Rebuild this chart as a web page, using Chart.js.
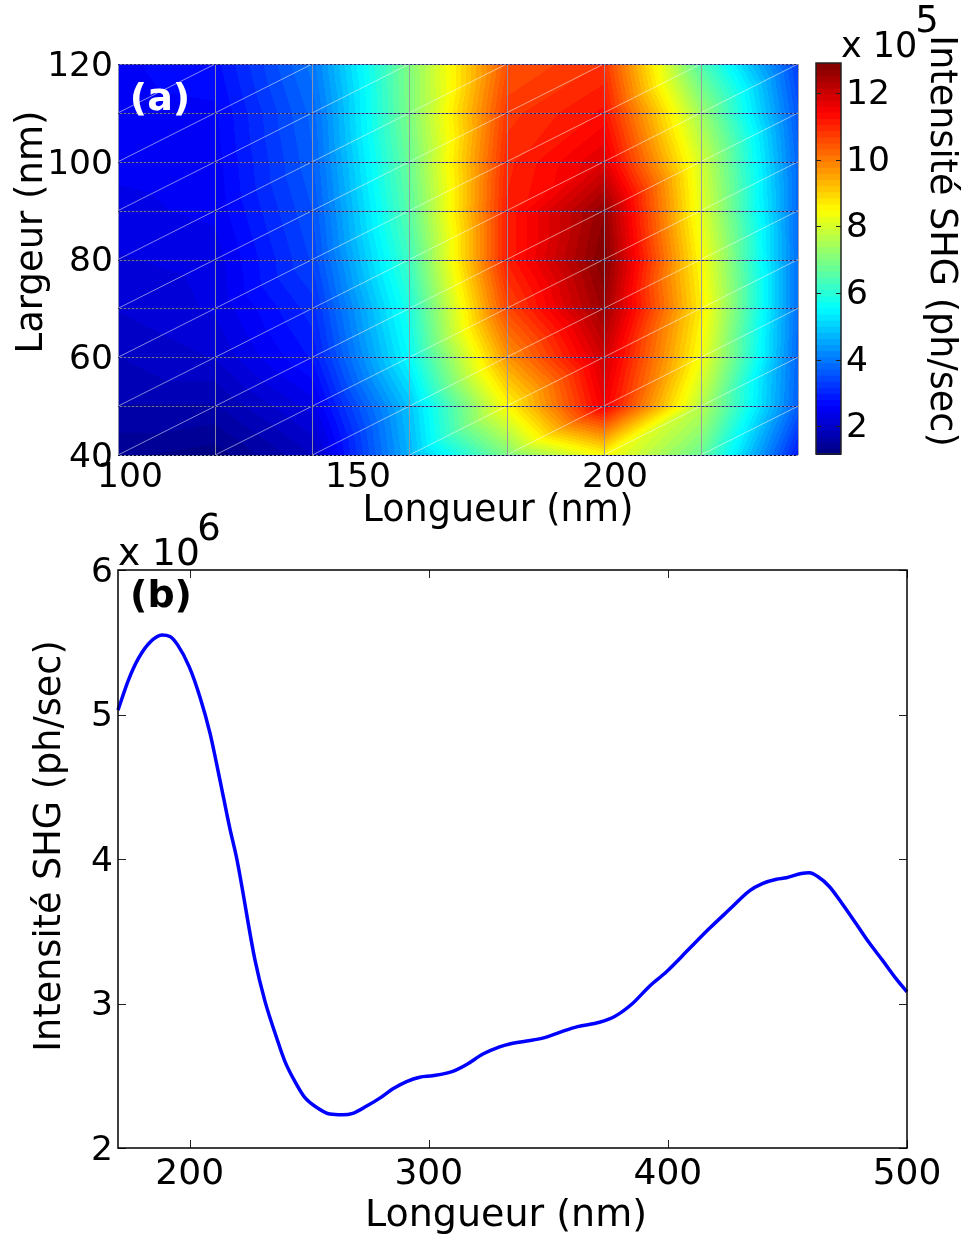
<!DOCTYPE html>
<html>
<head>
<meta charset="utf-8">
<title>Intensité SHG</title>
<script src="https://cdn.jsdelivr.net/npm/chart.js@4"></script>
<style>
    html, body { margin: 0; padding: 0; background: #ffffff; }
    #page { position: relative; width: 966px; height: 1234px; overflow: hidden; }
    canvas { position: absolute; }
</style>
</head>
<body>
<div id="page">
    <canvas id="map-chart" width="810" height="530" style="left:0;top:0"></canvas>
    <canvas id="colorbar-chart" width="166" height="530" style="left:800px;top:0"></canvas>
    <canvas id="line-chart" width="966" height="734" style="left:0;top:500px"></canvas>
</div>
<script>
// Panel (a): node values of the mesh, x 10^5 ph/sec
const mapLengths = [100, 120, 140, 160, 180, 200, 220, 240];
const mapWidths = [40, 50, 60, 70, 80, 90, 100, 110, 120];
const row40 = [1.40, 1.25, 1.90, 4.70, 7.00, 8.50, 6.80, 2.90];
const row50 = [1.70, 1.70, 2.35, 4.90, 8.50, 11.6, 7.70, 3.70];
const row60 = [1.90, 2.10, 2.85, 5.60, 9.70, 12.0, 8.40, 3.80];
const row70 = [2.10, 2.30, 3.10, 5.90, 10.6, 12.6, 8.70, 3.90];
const row80 = [2.25, 2.35, 3.40, 6.30, 11.1, 12.9, 8.50, 3.90];
const row90 = [2.40, 2.50, 3.55, 6.60, 11.1, 12.7, 8.20, 3.85];
const row100 = [2.50, 2.55, 3.70, 6.80, 11.0, 11.8, 8.00, 3.80];
const row110 = [2.55, 2.60, 3.80, 7.00, 10.8, 11.3, 7.40, 3.60];
const row120 = [2.60, 2.75, 4.00, 7.05, 10.5, 10.9, 6.50, 3.30];
const mapRows = [row40, row50, row60, row70, row80, row90, row100, row110, row120];
const mapXTicks = [100, 150, 200];
const mapYTicks = [40, 60, 80, 100, 120];

// Colour bar
const colorMin = 1.17;
const colorMax = 12.9;
const colorTicks = [2, 4, 6, 8, 10, 12];

// Panel (b): x 10^6 ph/sec
const shgLengths = [170, 174.4, 178.6, 183.4, 188.4, 191.7, 195, 199.8, 204.3, 208.5, 212.6, 216.8, 219.7, 227.3, 231.4, 236.4, 239.8, 244, 248.1, 253.2, 258.6, 264, 268.2, 274, 279.5, 285, 290.7, 296.2, 301.6, 310, 316, 322.6, 329.6, 333.8, 340.9, 347.6, 354.7, 362.2, 371.4, 377.7, 385.2, 392.3, 399.4, 409, 417.4, 425.7, 434.1, 439.5, 445.4, 449.6, 455.8, 459.2, 462.5, 467.5, 472.9, 478.8, 484.2, 489.7, 495.5, 500];
const shgValues = [5.03, 5.24, 5.39, 5.50, 5.55, 5.54, 5.48, 5.33, 5.12, 4.87, 4.55, 4.21, 4.00, 3.30, 3.02, 2.76, 2.60, 2.46, 2.35, 2.28, 2.235, 2.23, 2.24, 2.29, 2.345, 2.41, 2.46, 2.49, 2.50, 2.53, 2.58, 2.65, 2.70, 2.72, 2.74, 2.76, 2.80, 2.84, 2.87, 2.91, 3.00, 3.12, 3.22, 3.38, 3.52, 3.65, 3.78, 3.83, 3.86, 3.87, 3.90, 3.905, 3.88, 3.81, 3.69, 3.55, 3.42, 3.30, 3.17, 3.08];
const shgXTicks = [200, 300, 400, 500];
const shgYTicks = [2, 3, 4, 5, 6];

const FONT = '"DejaVu Sans", sans-serif';
const COLOR_LEVELS = 64;

Chart.defaults.font.family = FONT;
Chart.defaults.color = '#000000';
Chart.defaults.animation = false;

function jetColor(level) {
    const f = (level + 0.5) / COLOR_LEVELS;
    const ramp = (c) => Math.max(0, Math.min(1, 1.5 - Math.abs(4 * f - c)));
    return [ramp(3), ramp(2), ramp(1)].map(c => Math.round(c * 255));
}

function colorForValue(v) {
    const level = Math.floor((v - colorMin) / (colorMax - colorMin) * COLOR_LEVELS);
    return jetColor(Math.max(0, Math.min(COLOR_LEVELS - 1, level)));
}

function cellIndex(list, value) {
    let i = 0;
    while (i < list.length - 2 && value > list[i + 1]) i++;
    return i;
}

// Linear inside the two triangles of each mesh cell, split bottom-left to top-right
function meshValue(x, y) {
    const i = cellIndex(mapLengths, x);
    const j = cellIndex(mapWidths, y);
    const u = (x - mapLengths[i]) / (mapLengths[i + 1] - mapLengths[i]);
    const w = (y - mapWidths[j]) / (mapWidths[j + 1] - mapWidths[j]);
    const a = mapRows[j][i];
    const b = mapRows[j][i + 1];
    const c = mapRows[j + 1][i];
    const d = mapRows[j + 1][i + 1];
    if (w <= u) return a + u * (b - a) + w * (d - b);
    return a + u * (d - c) + w * (c - a);
}

const meshPlugin = {
    id: 'mesh',
    beforeDatasetsDraw(chart) {
        const { ctx, chartArea: area, scales } = chart;
        const left = Math.round(area.left);
        const top = Math.round(area.top);
        const w = Math.round(area.right) - left;
        const h = Math.round(area.bottom) - top;
        const image = ctx.createImageData(w, h);
        for (let py = 0; py < h; py++) {
            const y = scales.y.getValueForPixel(top + py + 0.5);
            for (let px = 0; px < w; px++) {
                const x = scales.x.getValueForPixel(left + px + 0.5);
                const rgb = colorForValue(meshValue(x, y));
                const k = (py * w + px) * 4;
                image.data[k] = rgb[0];
                image.data[k + 1] = rgb[1];
                image.data[k + 2] = rgb[2];
                image.data[k + 3] = 255;
            }
        }
        ctx.putImageData(image, left, top);

        ctx.save();
        // Diagonals
        ctx.lineWidth = 0.8;
        ctx.strokeStyle = 'rgba(255,255,255,0.65)';
        ctx.beginPath();
        for (let i = 0; i < mapLengths.length - 1; i++) {
            for (let j = 0; j < mapWidths.length - 1; j++) {
                ctx.moveTo(scales.x.getPixelForValue(mapLengths[i]), scales.y.getPixelForValue(mapWidths[j]));
                ctx.lineTo(scales.x.getPixelForValue(mapLengths[i + 1]), scales.y.getPixelForValue(mapWidths[j + 1]));
            }
        }
        ctx.stroke();
        ctx.lineWidth = 1;
        // Vertical mesh lines
        ctx.strokeStyle = 'rgba(150,150,165,0.9)';
        ctx.beginPath();
        mapLengths.forEach(v => {
            const x = Math.round(scales.x.getPixelForValue(v)) + 0.5;
            ctx.moveTo(x, area.top);
            ctx.lineTo(x, area.bottom);
        });
        ctx.stroke();
        // Horizontal mesh lines, grey with a dark broken line over them
        mapWidths.forEach(v => {
            const y = Math.round(scales.y.getPixelForValue(v)) + 0.5;
            ctx.setLineDash([]);
            ctx.strokeStyle = 'rgba(130,130,160,0.9)';
            ctx.beginPath();
            ctx.moveTo(area.left, y);
            ctx.lineTo(area.right, y);
            ctx.stroke();
            ctx.setLineDash([2, 2]);
            ctx.strokeStyle = v === 40 ? 'rgba(0,0,60,0.95)' : 'rgba(20,20,120,0.85)';
            ctx.beginPath();
            ctx.moveTo(area.left, y);
            ctx.lineTo(area.right, y);
            ctx.stroke();
        });
        ctx.restore();
    }
};

const colorbarPlugin = {
    id: 'colorbar',
    beforeDatasetsDraw(chart) {
        const { ctx, chartArea: area, scales } = chart;
        const span = colorMax - colorMin;
        ctx.save();
        for (let level = 0; level < COLOR_LEVELS; level++) {
            const y0 = scales.y.getPixelForValue(colorMin + span * level / COLOR_LEVELS);
            const y1 = scales.y.getPixelForValue(colorMin + span * (level + 1) / COLOR_LEVELS);
            const rgb = jetColor(level);
            ctx.fillStyle = `rgb(${rgb[0]},${rgb[1]},${rgb[2]})`;
            ctx.fillRect(area.left, y1, area.right - area.left, y0 - y1 + 1);
        }
        ctx.strokeStyle = '#222222';
        ctx.lineWidth = 1;
        ctx.beginPath();
        colorTicks.forEach(v => {
            const y = Math.round(scales.y.getPixelForValue(v)) + 0.5;
            ctx.moveTo(area.left, y);
            ctx.lineTo(area.left + 5, y);
            ctx.moveTo(area.right, y);
            ctx.lineTo(area.right - 5, y);
        });
        ctx.stroke();
        ctx.lineWidth = 1.5;
        ctx.strokeRect(area.left, area.top, area.right - area.left, area.bottom - area.top);
        ctx.restore();
    }
};

// Box and inward ticks of panel (b)
const framePlugin = {
    id: 'frame',
    afterDatasetsDraw(chart) {
        const { ctx, chartArea: area, scales } = chart;
        const len = 8;
        ctx.save();
        ctx.strokeStyle = '#222222';
        ctx.lineWidth = 1;
        ctx.beginPath();
        shgXTicks.forEach(v => {
            const x = Math.round(scales.x.getPixelForValue(v)) + 0.5;
            ctx.moveTo(x, area.bottom);
            ctx.lineTo(x, area.bottom - len);
            ctx.moveTo(x, area.top);
            ctx.lineTo(x, area.top + len);
        });
        shgYTicks.forEach(v => {
            const y = Math.round(scales.y.getPixelForValue(v)) + 0.5;
            ctx.moveTo(area.left, y);
            ctx.lineTo(area.left + len, y);
            ctx.moveTo(area.right, y);
            ctx.lineTo(area.right - len, y);
        });
        ctx.stroke();
        ctx.strokeStyle = '#000000';
        ctx.lineWidth = 1.5;
        ctx.strokeRect(area.left, area.top, area.right - area.left, area.bottom - area.top);
        ctx.restore();
    }
};

// Axis titles and the x labels of (a) sit off-centre in the reference, so they are placed by hand
function textPlugin(items) {
    return {
        id: 'texts',
        afterDraw(chart) {
            const { ctx } = chart;
            items.forEach(t => {
                ctx.save();
                ctx.translate(t.x, t.y);
                if (t.rotate) ctx.rotate(t.rotate);
                ctx.font = `${t.weight || 'normal'} ${t.size}px ${FONT}`;
                ctx.fillStyle = t.color || '#000000';
                ctx.textAlign = t.align || 'center';
                ctx.textBaseline = 'middle';
                ctx.fillText(t.text, 0, 0);
                ctx.restore();
            });
        }
    };
}

function fixedTicks(values) {
    return (scale) => { scale.ticks = values.map(v => ({ value: v })); };
}

const mapXLabelCentres = [130, 358, 615];

new Chart(document.getElementById('map-chart'), {
    type: 'scatter',
    data: {
        datasets: [{
            data: mapWidths.flatMap(y => mapLengths.map(x => ({ x, y }))),
            pointRadius: 0
        }]
    },
    options: {
        responsive: false,
        layout: { padding: { top: 64, right: 12, left: 0, bottom: 0 } },
        plugins: { legend: { display: false }, tooltip: { enabled: false } },
        scales: {
            x: {
                type: 'linear',
                min: 100,
                max: 240,
                afterBuildTicks: fixedTicks(mapXTicks),
                afterFit: (s) => { s.height = 75; },
                grid: { display: false, drawTicks: false },
                border: { display: false },
                ticks: { display: false }
            },
            y: {
                min: 40,
                max: 120,
                afterBuildTicks: fixedTicks(mapYTicks),
                afterFit: (s) => { s.width = 118; },
                grid: { display: false, drawTicks: false },
                border: { display: false },
                ticks: { font: { size: 34.5 }, padding: 5, labelOffset: 3, autoSkip: false }
            }
        }
    },
    plugins: [meshPlugin, textPlugin([
        ...mapXTicks.map((v, i) => ({ text: String(v), x: mapXLabelCentres[i], y: 478, size: 34.5 })),
        { text: '(a)', x: 160, y: 100, size: 38, weight: 'bold', color: '#ffffff' },
        { text: 'Largeur (nm)', x: 32, y: 232, size: 37, rotate: -Math.PI / 2 },
        { text: 'Longueur (nm)', x: 498, y: 512, size: 36.5 }
    ])]
});

new Chart(document.getElementById('colorbar-chart'), {
    type: 'scatter',
    data: { datasets: [{ data: colorTicks.map(v => ({ x: 0, y: v })), pointRadius: 0 }] },
    options: {
        responsive: false,
        layout: { padding: { top: 63, left: 16, right: 0, bottom: 76 } },
        plugins: { legend: { display: false }, tooltip: { enabled: false } },
        scales: {
            x: { type: 'linear', min: 0, max: 1, display: false },
            y: {
                position: 'right',
                min: colorMin,
                max: colorMax,
                afterBuildTicks: fixedTicks(colorTicks),
                afterFit: (s) => { s.width = 125; },
                grid: { display: false, drawTicks: false },
                border: { display: false },
                ticks: { font: { size: 34.5 }, padding: 5, labelOffset: 2, autoSkip: false }
            }
        }
    },
    plugins: [colorbarPlugin, textPlugin([
        { text: 'x 10', x: 41, y: 48, size: 35, align: 'left' },
        { text: '5', x: 127, y: 22, size: 37 },
        { text: 'Intensité SHG (ph/sec)', x: 140, y: 241, size: 36.6, rotate: Math.PI / 2 }
    ])]
});

new Chart(document.getElementById('line-chart'), {
    type: 'line',
    data: {
        datasets: [{
            data: shgLengths.map((x, i) => ({ x, y: shgValues[i] })),
            borderColor: '#0000ff',
            borderWidth: 3.5,
            pointRadius: 0,
            cubicInterpolationMode: 'monotone',
            fill: false,
            clip: false
        }]
    },
    options: {
        responsive: false,
        layout: { padding: { top: 70, right: 59, left: 0, bottom: 0 } },
        plugins: { legend: { display: false }, tooltip: { enabled: false } },
        scales: {
            x: {
                type: 'linear',
                min: 170,
                max: 500,
                afterBuildTicks: fixedTicks(shgXTicks),
                afterFit: (s) => { s.height = 86; },
                grid: { display: false, drawTicks: false },
                border: { display: false },
                ticks: { font: { size: 36 }, padding: 5, maxRotation: 0, autoSkip: false }
            },
            y: {
                min: 2,
                max: 6,
                afterBuildTicks: fixedTicks(shgYTicks),
                afterFit: (s) => { s.width = 118; },
                grid: { display: false, drawTicks: false },
                border: { display: false },
                ticks: { font: { size: 34.5 }, padding: 5, labelOffset: 3, autoSkip: false }
            }
        }
    },
    plugins: [framePlugin, textPlugin([
        { text: '(b)', x: 161, y: 97, size: 38, weight: 'bold' },
        { text: 'x 10', x: 118, y: 55, size: 37.5, align: 'left' },
        { text: '6', x: 209, y: 30, size: 37 },
        { text: 'Intensité SHG (ph/sec)', x: 50, y: 346, size: 36.6, rotate: -Math.PI / 2 },
        { text: 'Longueur (nm)', x: 506, y: 716, size: 38 }
    ])]
});
</script>
</body>
</html>
